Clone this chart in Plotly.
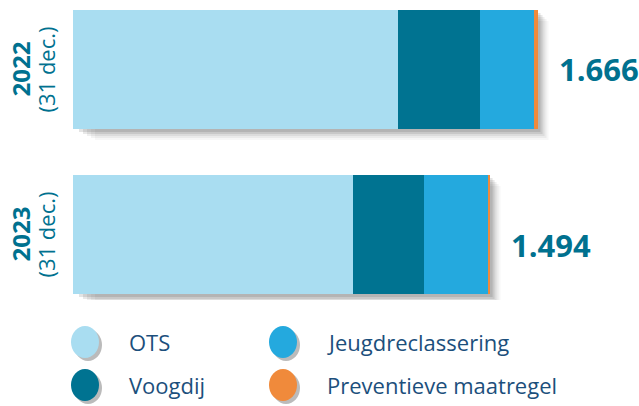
import plotly.graph_objects as go

# Data
jaren = ["2022", "2023"]
sublabels = ["(31 dec.)", "(31 dec.)"]
totalen_tekst = ["1.666", "1.494"]
series = ["OTS", "Voogdij", "Jeugdreclassering", "Preventieve maatregel"]
ots = [1165, 1004]
voogdij = [294, 255]
jeugdreclassering = [193, 232]
preventief = [14, 3]
kleuren = ["#a9ddf1", "#007391", "#24a9de", "#f08a3b"]

waarden = [ots, voogdij, jeugdreclassering, preventief]
totalen = [sum(v[i] for v in waarden) for i in range(len(jaren))]
ypos = [1, 0]  # 2022 boven, 2023 onder
label_yshift = [0, -11]  # het totaal van 2023 staat iets lager

W, H = 639, 406
ML, MR, MT, MB = 73, 0, 0, 106
PW, PH = W - ML - MR, H - MT - MB
XMAX = 2030
YMIN, YMAX = -0.397, 1.421
TEAL = "#00718f"
NAVY = "#1c4f7c"

fig = go.Figure()
for naam, vals, kleur in zip(series, waarden, kleuren):
    fig.add_trace(go.Bar(x=vals, y=ypos, orientation="h", name=naam,
                         marker=dict(color=kleur, line=dict(width=0)),
                         width=0.72, showlegend=False, hoverinfo="skip"))

# zachte schaduw achter de balken
px_x = XMAX / PW
px_y = (YMAX - YMIN) / PH
shapes = []
for tot, y in zip(totalen, ypos):
    for k, op in [(11, 0.04), (9, 0.06), (7, 0.08), (5, 0.11), (3, 0.13)]:
        shapes.append(dict(type="rect", xref="x", yref="y", layer="below",
                           x0=k * 2 * px_x, x1=tot + k * px_x,
                           y0=y - 0.36 - k * px_y, y1=y + 0.36 - k * px_y,
                           fillcolor="rgba(50,50,50,%s)" % op, line=dict(width=0)))

annotations = []
for jaar, sub, tot, txt, y, ys in zip(jaren, sublabels, totalen, totalen_tekst, ypos, label_yshift):
    annotations.append(dict(x=tot, y=y, xref="x", yref="y", text="<b>%s</b>" % txt,
                            showarrow=False, xanchor="left", xshift=19, yshift=ys,
                            font=dict(size=31, color=TEAL, family="Open Sans")))
    annotations.append(dict(x=-(ML - 20) / PW, y=y, xref="paper", yref="y",
                            text="<b>%s</b>" % jaar, textangle=-90, showarrow=False,
                            xanchor="center", yanchor="middle",
                            font=dict(size=24, color=TEAL, family="Open Sans")))
    annotations.append(dict(x=-(ML - 46) / PW, y=y, xref="paper", yref="y",
                            text=sub, textangle=-90, showarrow=False,
                            xanchor="center", yanchor="middle",
                            font=dict(size=22, color=TEAL, family="Open Sans")))

# legenda: twee kolommen met ronde symbolen
def px2paper(xp, yp):
    return (xp - ML) / PW, (H - MB - yp) / PH

leg_pos = [(85, 342), (85, 385), (283, 342), (283, 385)]
for naam, kleur, (cx, cy) in zip(series, kleuren, leg_pos):
    for dx, dy, col in [(3, 3, "rgba(60,60,60,0.35)"), (0, 0, kleur)]:
        x0, y0 = px2paper(cx - 14 + dx, cy + 16 + dy)
        x1, y1 = px2paper(cx + 14 + dx, cy - 16 + dy)
        shapes.append(dict(type="circle", xref="paper", yref="paper",
                           x0=x0, x1=x1, y0=y0, y1=y1,
                           fillcolor=col, line=dict(width=0)))
    tx, ty = px2paper(cx + 42, cy)
    annotations.append(dict(x=tx, y=ty, xref="paper", yref="paper", text=naam,
                            showarrow=False, xanchor="left", yanchor="middle",
                            font=dict(size=22, color=NAVY, family="Open Sans")))

fig.update_layout(
    width=W, height=H, barmode="stack",
    margin=dict(l=ML, r=MR, t=MT, b=MB),
    paper_bgcolor="white", plot_bgcolor="white",
    xaxis=dict(range=[0, XMAX], visible=False),
    yaxis=dict(range=[YMIN, YMAX], visible=False),
    shapes=shapes, annotations=annotations,
)

fig.write_html("out.html", config={"displayModeBar": False},
               post_script="document.body.style.margin='0';")
